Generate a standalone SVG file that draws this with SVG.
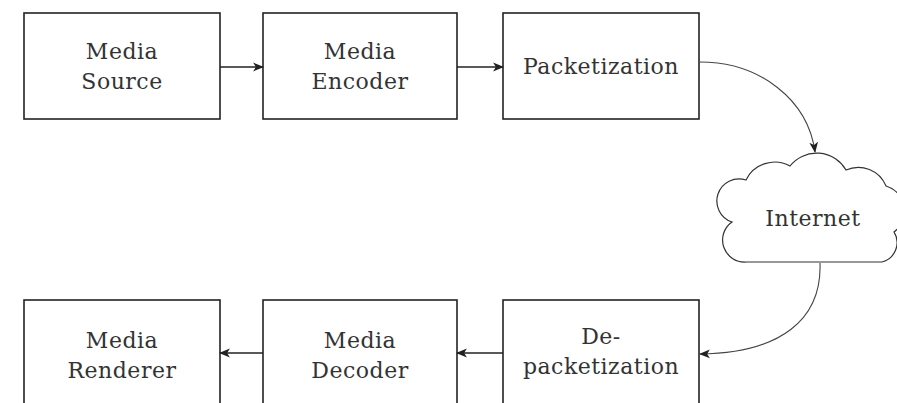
<svg xmlns="http://www.w3.org/2000/svg" width="897" height="403" viewBox="0 0 897 403">
  <defs>
    <marker id="arrow" viewBox="0 0 10 10" refX="9" refY="5" markerWidth="11" markerHeight="11" markerUnits="userSpaceOnUse" orient="auto">
      <path d="M0,1 L10,5 L0,9 L2.5,5 Z" fill="#222"/>
    </marker>
    <style>
      .box { fill: #fff; stroke: #222; stroke-width: 1.6; }
      .cloud { fill: #fff; stroke: #333; stroke-width: 1.2; }
      .lbl { font-family: "DejaVu Serif", "Liberation Serif", serif; font-size: 22px; fill: #333; text-anchor: middle; letter-spacing: 0.5px; }
      .edge { fill: none; stroke: #222; stroke-width: 1.6; marker-end: url(#arrow); }
      .curve { fill: none; stroke: #444; stroke-width: 1.1; marker-end: url(#arrow); }
    </style>
  </defs>
  <rect width="897" height="403" fill="#fff"/>

  <g id="media-source">
    <rect class="box" x="24" y="13" width="196" height="106"/>
    <text class="lbl" x="122" y="59">Media</text>
    <text class="lbl" x="122" y="89">Source</text>
  </g>
  <g id="media-encoder">
    <rect class="box" x="263" y="13" width="194" height="106"/>
    <text class="lbl" x="360" y="59">Media</text>
    <text class="lbl" x="360" y="89">Encoder</text>
  </g>
  <g id="packetization">
    <rect class="box" x="503" y="13" width="196" height="106"/>
    <text class="lbl" x="601" y="74">Packetization</text>
  </g>
  <g id="internet">
    <path class="cloud" d="M746,262 A22,22 0 0 1 732,222 A22,22 0 0 1 746,180 A32,32 0 0 1 790,166 A34,34 0 0 1 846,170 A30,30 0 0 1 886,186 A26,26 0 0 1 894,232 A20,20 0 0 1 882,262 Z"/>
    <text class="lbl" x="813" y="226">Internet</text>
  </g>
  <g id="depacketization">
    <rect class="box" x="503" y="300" width="196" height="110"/>
    <text class="lbl" x="601" y="344">De-</text>
    <text class="lbl" x="601" y="374">packetization</text>
  </g>
  <g id="media-decoder">
    <rect class="box" x="263" y="300" width="194" height="110"/>
    <text class="lbl" x="360" y="348">Media</text>
    <text class="lbl" x="360" y="378">Decoder</text>
  </g>
  <g id="media-renderer">
    <rect class="box" x="24" y="300" width="196" height="110"/>
    <text class="lbl" x="122" y="348">Media</text>
    <text class="lbl" x="122" y="378">Renderer</text>
  </g>

  <g id="connectors">
    <line class="edge" x1="220" y1="67" x2="263" y2="67"/>
    <line class="edge" x1="457" y1="67" x2="503" y2="67"/>
    <path class="curve" d="M700,62 C760,62 808,100 815,152"/>
    <path class="curve" d="M820,263 C822,320 780,353 700,354"/>
    <line class="edge" x1="503" y1="353" x2="457" y2="353"/>
    <line class="edge" x1="263" y1="353" x2="220" y2="353"/>
  </g>
</svg>
